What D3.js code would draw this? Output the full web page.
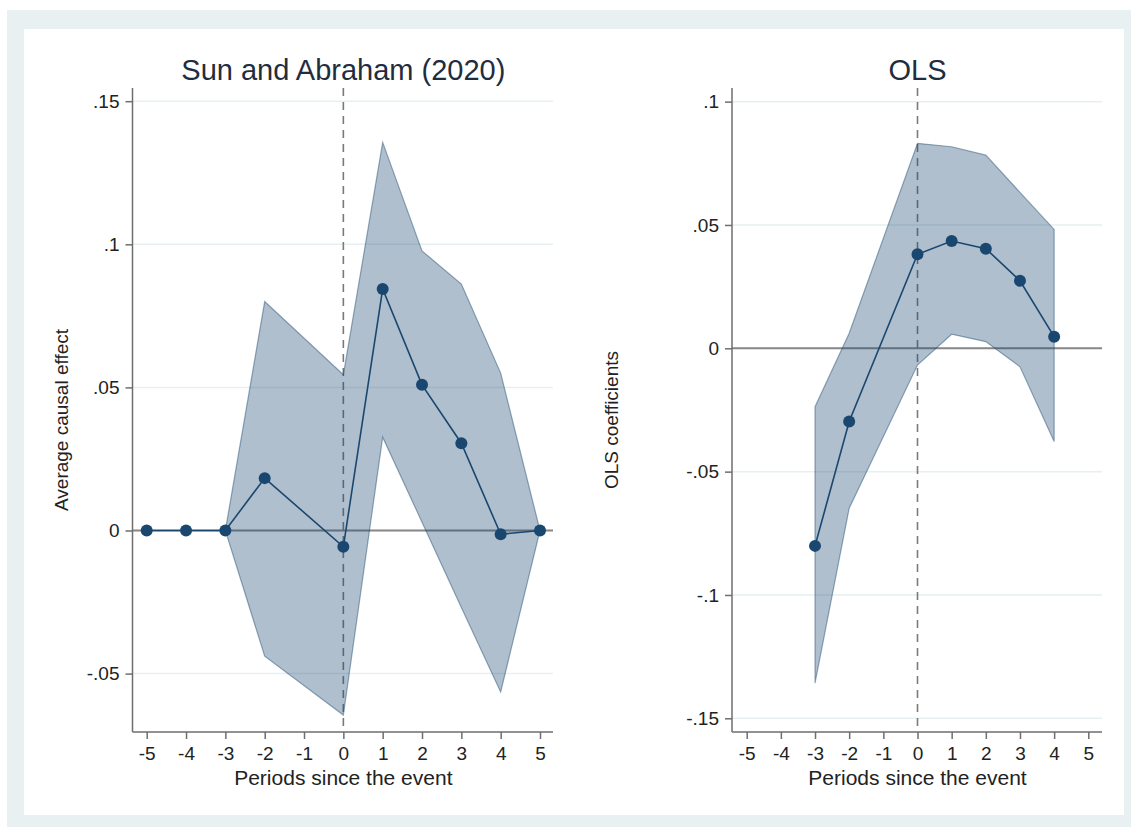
<!DOCTYPE html>
<html>
<head>
<meta charset="utf-8">
<script src="https://cdn.jsdelivr.net/npm/d3@7"></script>
<style>
  html, body { margin: 0; padding: 0; background: #ffffff; }
  svg { display: block; }
  text { font-family: "Liberation Sans", Arial, sans-serif; }
</style>
</head>
<body>
<svg id="chart" width="1131" height="827"></svg>
<script>
// Event-study estimates: periods relative to the event (null = not estimated)
const periods = [-5, -4, -3, -2, -1, 0, 1, 2, 3, 4, 5];

// Sun and Abraham (2020) interaction-weighted estimates with 95% bounds
const saCoef  = [0, 0, 0, 0.0183, null, -0.0057, 0.0844, 0.0509, 0.0305, -0.0013, 0];
const saUpper = [0, 0, 0, 0.0800, null,  0.0544, 0.1356, 0.0977, 0.0861,  0.0550, 0];
const saLower = [0, 0, 0, -0.0439, null, -0.0645, 0.0326, 0.0029, -0.0269, -0.0564, 0];

// OLS event-study coefficients with 95% bounds
const olsCoef  = [null, null, -0.0801, -0.0297, null, 0.0381, 0.0435, 0.0404, 0.0274, 0.0047, null];
const olsUpper = [null, null, -0.0237,  0.0061, null, 0.0831, 0.0817, 0.0783, 0.0632, 0.0482, null];
const olsLower = [null, null, -0.1357, -0.0648, null, -0.0068, 0.0057, 0.0027, -0.0075, -0.0378, null];

const saYTicks  = [-0.05, 0, 0.05, 0.1, 0.15];
const olsYTicks = [-0.15, -0.1, -0.05, 0, 0.05, 0.1];

// Stata-style labels: no leading zero, plain hyphen for negatives
const fmt = v => {
  if (v === 0) return "0";
  const s = String(+v.toFixed(2));
  return s.replace(/^0\./, ".").replace(/^-0\./, "-.");
};
const fmtInt = v => String(v);

const NAVY = "#1a476f";
const FONT = '"Liberation Sans", Arial, sans-serif';

const svg = d3.select("#chart");

// outer frame and plot region
svg.append("rect").attr("x", 7).attr("y", 10).attr("width", 1124).attr("height", 817).attr("fill", "#e9f0f2");
svg.append("rect").attr("x", 24).attr("y", 29).attr("width", 1100).attr("height", 786).attr("fill", "#ffffff");

function panel(cfg) {
  const g = svg.append("g");
  const x = d3.scaleLinear().domain([-5, 5]).range(cfg.xRange);
  const y = d3.scaleLinear().domain(cfg.yDomain).range(cfg.yRange);

  const rows = periods.map((p, i) => ({ p, b: cfg.coef[i], hi: cfg.upper[i], lo: cfg.lower[i] }))
    .filter(d => d.b !== null);

  // horizontal grid
  g.selectAll("line.grid").data(cfg.yTicks).join("line")
    .attr("x1", cfg.axisX).attr("x2", cfg.right)
    .attr("y1", d => y(d)).attr("y2", d => y(d))
    .attr("stroke", "#e6eff1").attr("stroke-width", 1.5);

  // reference line at zero
  g.append("line")
    .attr("x1", cfg.axisX).attr("x2", cfg.right)
    .attr("y1", y(0)).attr("y2", y(0))
    .attr("stroke", "#878787").attr("stroke-width", 2);

  // event date
  g.append("line")
    .attr("x1", x(0)).attr("x2", x(0))
    .attr("y1", cfg.top).attr("y2", cfg.bottom)
    .attr("stroke", "#7a7a7a").attr("stroke-width", 1.6)
    .attr("stroke-dasharray", "8,6");

  // confidence band
  const area = d3.area().x(d => x(d.p)).y0(d => y(d.lo)).y1(d => y(d.hi));
  g.append("path").datum(rows).attr("d", area)
    .attr("fill", NAVY).attr("fill-opacity", 0.35)
    .attr("stroke", NAVY).attr("stroke-opacity", 0.45).attr("stroke-width", 1.2);

  // point estimates
  const line = d3.line().x(d => x(d.p)).y(d => y(d.b));
  g.append("path").datum(rows).attr("d", line)
    .attr("fill", "none").attr("stroke", NAVY).attr("stroke-width", 1.6);
  g.selectAll("circle").data(rows).join("circle")
    .attr("cx", d => x(d.p)).attr("cy", d => y(d.b)).attr("r", 6)
    .attr("fill", NAVY);

  // axes
  const yAxis = d3.axisLeft(y).tickValues(cfg.yTicks).tickFormat(fmt).tickSize(7).tickPadding(6);
  const ya = g.append("g").attr("transform", `translate(${cfg.axisX},0)`).call(yAxis);
  ya.select(".domain").remove();
  ya.append("line").attr("x1", 0).attr("x2", 0).attr("y1", cfg.top).attr("y2", cfg.bottom)
    .attr("stroke", "#6e6e6e").attr("stroke-width", 1.5);

  const xAxis = d3.axisBottom(x).tickValues(periods).tickFormat(fmtInt).tickSize(7).tickPadding(8);
  const xa = g.append("g").attr("transform", `translate(0,${cfg.bottom})`).call(xAxis);
  xa.select(".domain").remove();
  xa.append("line").attr("x1", cfg.axisX).attr("x2", cfg.right).attr("y1", 0).attr("y2", 0)
    .attr("stroke", "#6e6e6e").attr("stroke-width", 1.5);

  [ya, xa].forEach(a => {
    a.selectAll(".tick line").attr("stroke", "#6e6e6e").attr("stroke-width", 1.5);
    a.selectAll(".tick text").attr("fill", "#222222").style("font-size", "19px")
      .style("font-family", FONT);
  });

  const cx = x(0);
  g.append("text").attr("x", cx).attr("y", 80).attr("text-anchor", "middle")
    .attr("fill", "#1f2d3d").style("font-size", "29px").text(cfg.title);
  g.append("text").attr("x", cx).attr("y", 785).attr("text-anchor", "middle")
    .attr("fill", "#222222").style("font-size", "21px").text("Periods since the event");
  const my = (cfg.top + cfg.bottom) / 2 + 10;
  g.append("text").attr("transform", `translate(${cfg.labelX},${my}) rotate(-90)`)
    .attr("text-anchor", "middle").attr("fill", "#222222").style("font-size", "19px").text(cfg.yLabel);
}

panel({
  title: "Sun and Abraham (2020)", yLabel: "Average causal effect",
  coef: saCoef, upper: saUpper, lower: saLower, yTicks: saYTicks,
  xRange: [146.7, 540], yDomain: [0, 0.05], yRange: [530.5, 387.4],
  axisX: 132.5, right: 553, top: 88, bottom: 732, labelX: 68
});

panel({
  title: "OLS", yLabel: "OLS coefficients",
  coef: olsCoef, upper: olsUpper, lower: olsLower, yTicks: olsYTicks,
  xRange: [746.7, 1088.3], yDomain: [0, -0.15], yRange: [348.3, 718.3],
  axisX: 732, right: 1102, top: 88, bottom: 732, labelX: 618
});
</script>
</body>
</html>
